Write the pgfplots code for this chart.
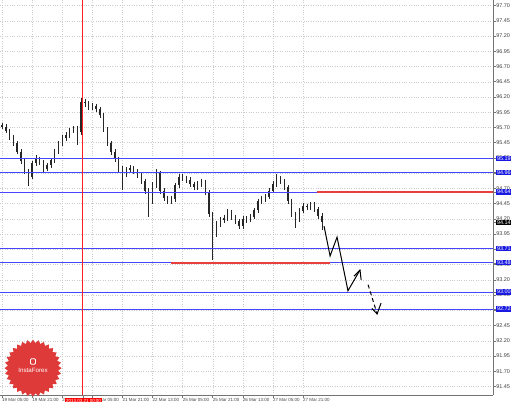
\documentclass[border=0pt]{standalone}
\usepackage{fontspec}
\setmainfont{Liberation Sans}
\usepackage{pgfplots}
\pgfplotsset{compat=1.18}
\usepackage{pgfplotstable}
\usetikzlibrary{shapes.geometric}
\definecolor{lblue}{RGB}{70,70,255}
\definecolor{boxblue}{RGB}{25,25,225}
\definecolor{lred}{RGB}{232,62,62}
\definecolor{vred}{RGB}{255,30,30}
\definecolor{logored}{RGB}{222,58,58}
\newcommand\bb[1]{{\setlength\fboxsep{0.7bp}\colorbox{boxblue}{\textcolor{white}{#1}}}}
\newcommand\kb[1]{{\setlength\fboxsep{0.7bp}\colorbox{black}{\textcolor{white}{#1}}}}
\newcommand\rb[1]{{\setlength\fboxsep{1bp}\colorbox{red}{\textcolor{white}{#1}}}}

\pgfplotstableread{
h o hi lo c
0 95.74 95.78 95.67 95.71
2 95.71 95.75 95.60 95.64
4 95.64 95.68 95.50 95.54
6 95.54 95.58 95.39 95.44
8 95.44 95.47 95.26 95.30
10 95.30 95.34 95.10 95.15
12 95.15 95.19 94.93 94.98
14 94.98 95.02 94.74 94.89
16 94.89 95.15 94.85 95.11
18 95.11 95.24 95.07 95.18
20 95.18 95.22 95.08 95.13
22 95.13 95.16 94.97 95.02
24 95.02 95.12 94.98 95.08
26 95.08 95.20 95.04 95.16
28 95.16 95.35 95.12 95.31
30 95.31 95.47 95.27 95.43
32 95.43 95.57 95.39 95.52
34 95.52 95.62 95.48 95.57
36 95.57 95.69 95.53 95.64
38 95.64 95.72 95.60 95.67
40 95.67 95.73 95.41 95.62
42 95.62 96.18 95.58 96.11
44 96.11 96.16 96.04 96.10
46 96.10 96.13 95.98 96.03
48 96.03 96.10 95.99 96.05
50 96.05 96.09 95.95 96.00
52 96.00 96.04 95.85 95.90
54 95.90 95.93 95.62 95.66
56 95.66 95.70 95.40 95.44
58 95.44 95.48 95.25 95.30
60 95.30 95.34 95.13 95.18
62 95.18 95.22 94.97 95.02
64 95.02 95.06 94.67 94.93
66 94.93 95.05 94.88 95.00
68 95.00 95.08 94.96 95.03
70 95.03 95.07 94.93 94.98
72 94.98 95.02 94.87 94.92
74 94.92 94.96 94.77 94.82
76 94.82 94.86 94.61 94.66
78 94.66 94.70 94.23 94.48
80 94.48 94.80 94.44 94.75
82 94.75 95.01 94.71 94.95
84 94.95 94.98 94.61 94.66
86 94.66 94.70 94.49 94.54
88 94.54 94.58 94.44 94.49
90 94.49 94.57 94.45 94.52
92 94.52 94.79 94.48 94.75
94 94.75 94.94 94.71 94.89
96 94.89 94.93 94.82 94.87
98 94.87 94.91 94.79 94.84
100 94.84 94.88 94.72 94.77
102 94.77 94.81 94.67 94.72
104 94.72 94.82 94.68 94.77
106 94.77 94.86 94.73 94.80
108 94.80 94.84 94.59 94.64
110 94.64 94.67 94.23 94.28
112 94.28 94.32 93.52 93.95
114 93.95 94.16 93.90 94.11
116 94.11 94.23 94.06 94.18
118 94.18 94.27 94.13 94.21
120 94.21 94.36 94.17 94.31
122 94.31 94.35 94.18 94.23
124 94.23 94.27 94.11 94.16
126 94.16 94.20 94.03 94.08
128 94.08 94.25 94.04 94.20
130 94.20 94.25 94.13 94.18
132 94.18 94.28 94.14 94.23
134 94.23 94.38 94.19 94.34
136 94.34 94.53 94.30 94.49
138 94.49 94.57 94.45 94.52
140 94.52 94.61 94.48 94.56
142 94.56 94.70 94.52 94.66
144 94.66 94.82 94.62 94.77
146 94.77 94.93 94.73 94.87
148 94.87 94.91 94.77 94.82
150 94.82 94.86 94.67 94.72
152 94.72 94.75 94.45 94.49
154 94.49 94.53 94.23 94.28
156 94.28 94.32 94.05 94.18
158 94.18 94.37 94.14 94.33
160 94.33 94.46 94.29 94.41
162 94.41 94.45 94.34 94.39
164 94.39 94.48 94.35 94.43
166 94.43 94.47 94.31 94.36
168 94.36 94.40 94.20 94.25
170 94.25 94.29 94.02 94.14
}\candles

\begin{document}
\begin{tikzpicture}
\path[use as bounding box] (0,0) rectangle (518bp,402bp);
\begin{axis}[
  at={(0,7bp)}, anchor=south west,
  scale only axis, width=493bp, height=395bp,
  xmin=-1.06, xmax=261, ymin=91.31, ymax=97.79,
  clip=false,
  axis x line*=bottom, axis y line*=right,
  axis line style={black!55, line width=0.5bp},
  tick align=outside, major tick length=2.5bp,
  tick style={black!55, line width=0.4bp},
  xmajorgrids, ymajorgrids,
  major grid style={dotted, black!20, line width=0.35bp},
  xtick={0,16,...,160},
  xticklabels={19 Mar 05:00, 19 Mar 21:00, 20 Mar 13:00, 21 Mar 05:00, 21 Mar 21:00, 22 Mar 13:00, 25 Mar 05:00, 25 Mar 21:00, 26 Mar 13:00, 27 Mar 05:00, 27 Mar 21:00},
  ytick={91.45,91.70,...,97.71},
  /pgf/number format/fixed, /pgf/number format/fixed zerofill,
  /pgf/number format/precision=2, /pgf/number format/assume math mode=true,
  x tick label style={font=\fontsize{4.5}{5}\selectfont, anchor=north west, inner sep=0.5bp, xshift=-0.5bp, text=black!75},
  y tick label style={font=\fontsize{5.5}{6}\selectfont, anchor=west, inner sep=0.6bp, text=black!75},
  extra y ticks={95.19,94.96,94.64,93.71,93.48,93.00,92.72,94.14},
  extra y tick labels={\bb{95.19},\bb{94.96},\bb{94.64},\bb{93.71},\bb{93.48},\bb{93.00},\bb{92.72},\kb{94.14}},
  extra y tick style={grid=none, major grid style={draw=none}},
  extra x ticks={43},
  extra x tick labels={\rb{2013.03.21 00:00}},
  extra x tick style={grid=none, major grid style={draw=none}, tick label style={xshift=-18bp}},
]
% candles: wicks
\addplot[draw=none, mark=none, forget plot,
  error bars/.cd, y dir=minus, y explicit, error mark=none,
  error bar style={draw=black!85, line width=0.5bp, solid}]
  table[x=h, y=hi, y error expr=\thisrow{hi}-\thisrow{lo}] {\candles};
% candles: bodies
\addplot[draw=none, mark=none, forget plot,
  error bars/.cd, y dir=minus, y explicit, error mark=none,
  error bar style={draw=black!85, line width=1.3bp, solid}]
  table[x=h, y expr={max(\thisrow{o},\thisrow{c})}, y error expr={abs(\thisrow{o}-\thisrow{c})}] {\candles};
% support / resistance lines
\addplot[lblue, line width=0.9bp, forget plot] coordinates {(-1.06,95.19) (261,95.19)};
\addplot[lblue, line width=0.9bp, forget plot] coordinates {(-1.06,94.96) (261,94.96)};
\addplot[lblue, line width=0.9bp, forget plot] coordinates {(-1.06,94.64) (261,94.64)};
\addplot[lblue, line width=0.9bp, forget plot] coordinates {(-1.06,93.71) (261,93.71)};
\addplot[lblue, line width=0.9bp, forget plot] coordinates {(-1.06,93.48) (261,93.48)};
\addplot[lblue, line width=0.9bp, forget plot] coordinates {(-1.06,93.00) (261,93.00)};
\addplot[lblue, line width=0.9bp, forget plot] coordinates {(-1.06,92.713) (261,92.713)};
\addplot[lred, line width=1.6bp, forget plot] coordinates {(167.5,94.64) (261,94.64)};
\addplot[lred, line width=1.6bp, forget plot] coordinates {(89.8,93.48) (174.4,93.48)};
\addplot[vred, line width=1bp, forget plot] coordinates {(42.8,91.31) (42.8,97.79)};
% forecast arrows
\addplot[black, line width=1bp, forget plot] coordinates {(171.2,94.08) (174.4,93.59) (178.1,93.90) (183.9,93.02) (190.3,93.36)};
\addplot[black, line width=1bp, forget plot] coordinates {(187.1,93.26) (190.3,93.36) (190.9,93.20)};
\addplot[black, line width=1bp, dashed, dash pattern=on 4bp off 3bp, forget plot] coordinates {(194.6,93.12) (199.4,92.64)};
\addplot[black, line width=1bp, forget plot] coordinates {(196.6,92.73) (199.4,92.64) (201.5,92.82)};
% logo
\node[star, star points=32, star point ratio=1.13, fill=logored, minimum size=57bp, inner sep=0pt] at (axis cs:16.5,91.75) {};
\node[draw=white, line width=0.8bp, minimum width=5bp, minimum height=5.5bp, inner sep=0pt, rounded corners=1bp] at (axis cs:16.5,91.86) {};
\node[text=white, font=\fontsize{6.2}{7}\selectfont, inner sep=0pt] at (axis cs:16.5,91.71) {InstaForex};
\end{axis}
\end{tikzpicture}
\end{document}
